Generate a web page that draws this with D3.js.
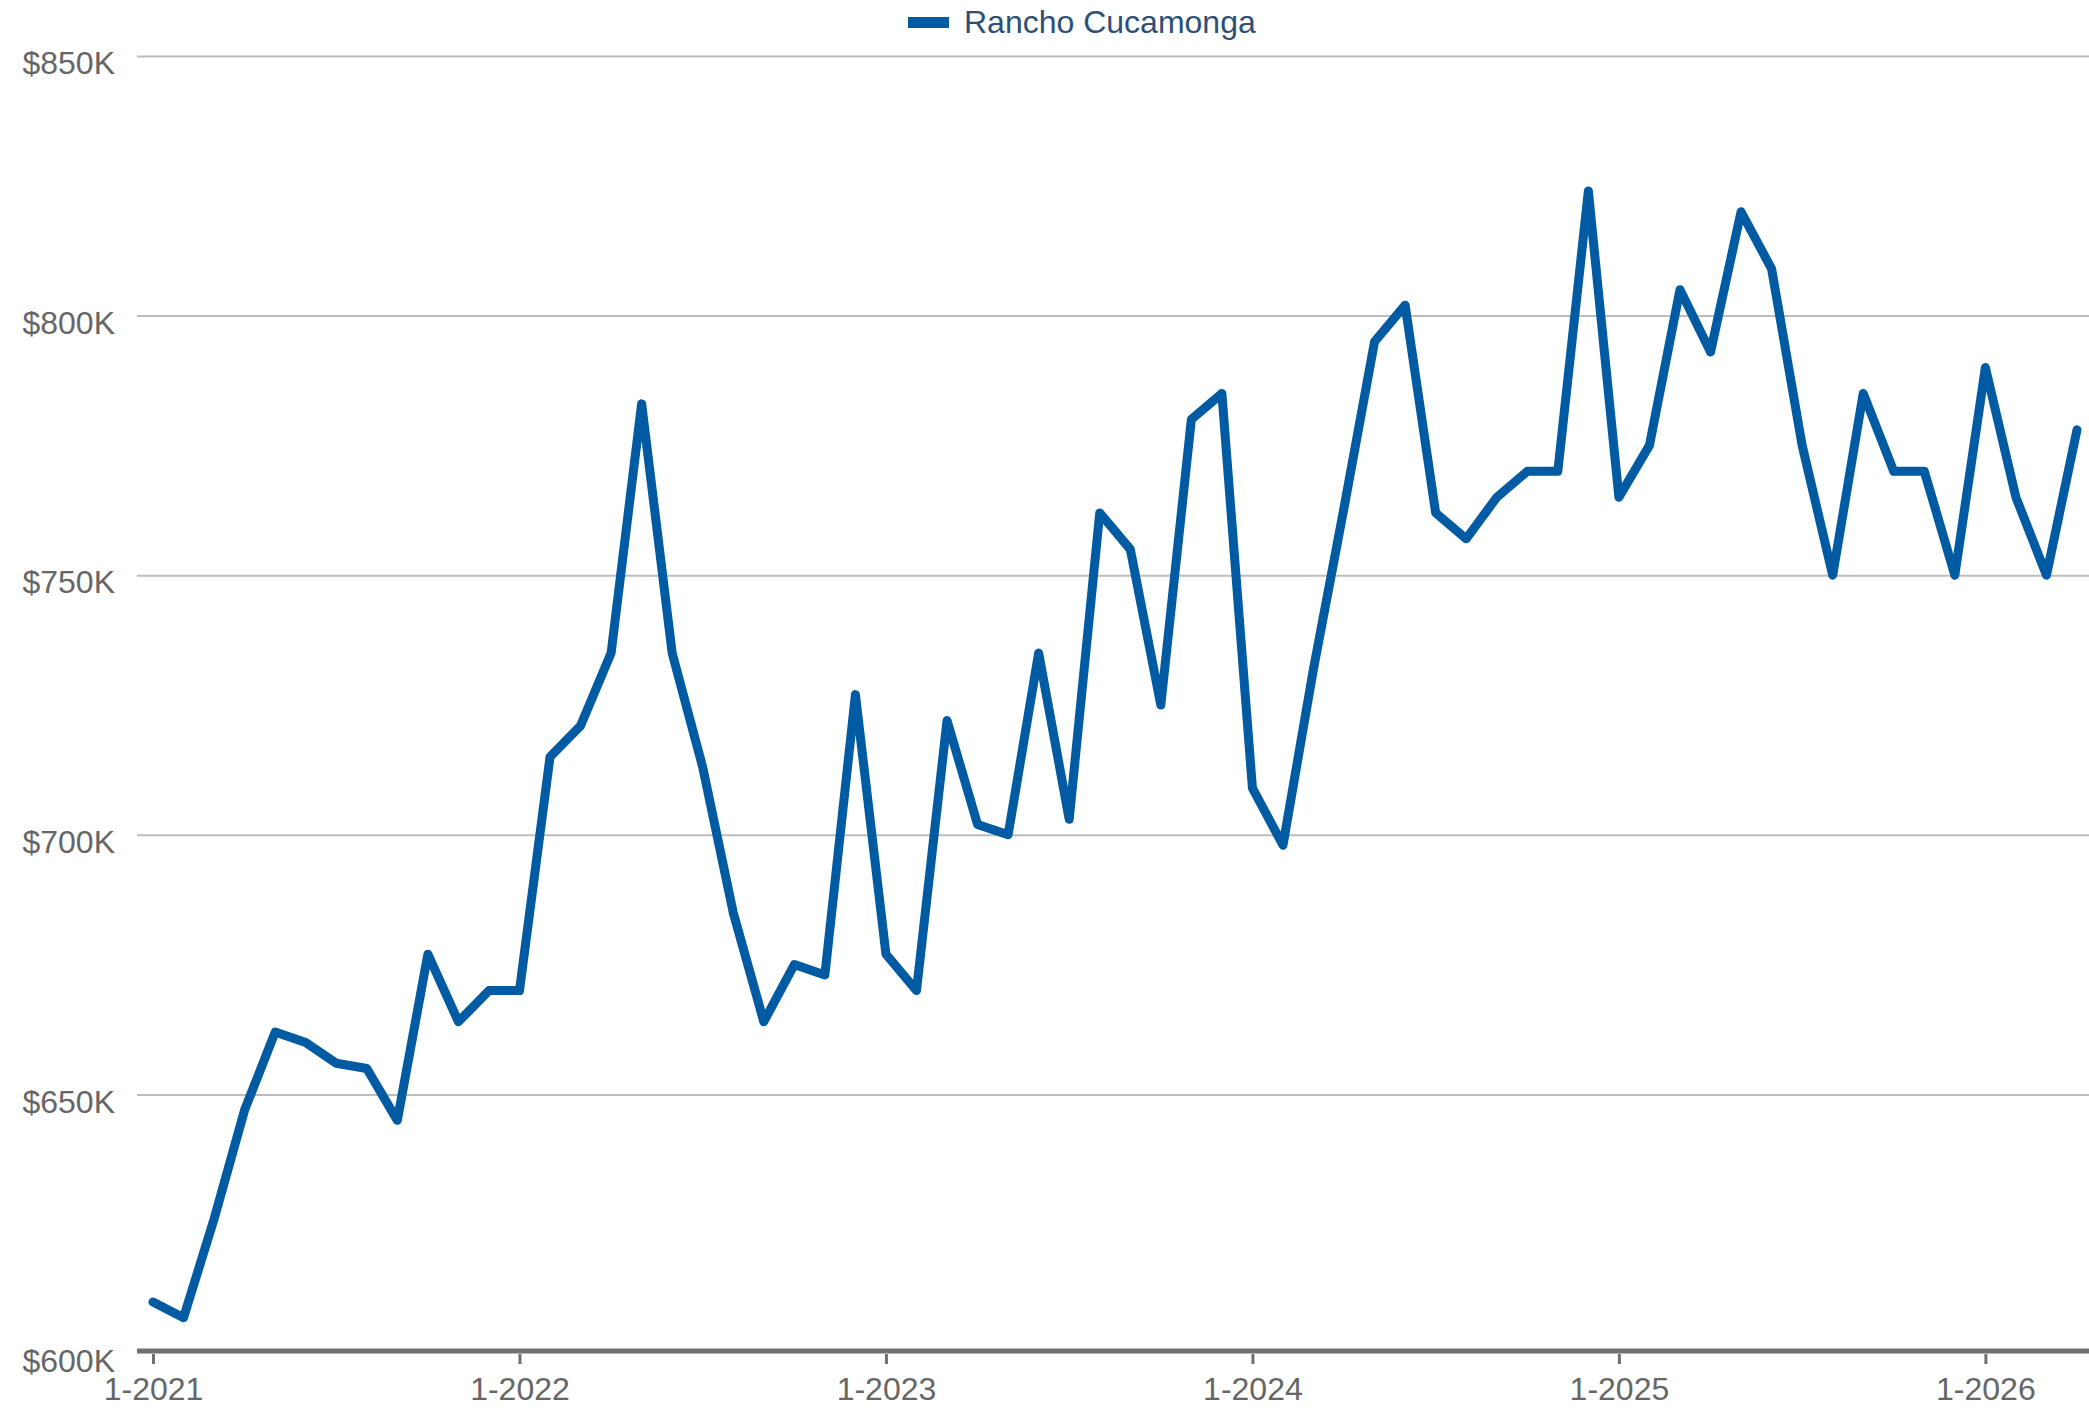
<!DOCTYPE html>
<html>
<head>
<meta charset="utf-8">
<script src="https://cdn.jsdelivr.net/npm/d3@7"></script>
<style>
  body { margin: 0; background: #fff; }
  text { font-family: "Liberation Sans", Arial, sans-serif; }
</style>
</head>
<body>
<div id="chart"></div>
<script>
// monthly median price, Rancho Cucamonga, in $K
var seriesName = 'Rancho Cucamonga';
var startMonth = new Date(2021, 0, 1);
var prices = [
  610, 607, 626, 647, 662, 660, 656, 655, 645, 677, 664, 670,
  670, 715, 721, 735, 783, 735, 713, 685, 664, 675, 673, 727,
  677, 670, 722, 702, 700, 735, 703, 762, 755, 725, 780, 785,
  709, 698, 732, 763, 795, 802, 762, 757, 765, 770, 770, 824,
  765, 775, 805, 793, 820, 809, 775, 750, 785, 770, 770, 750,
  790, 765, 750, 778
];
var yTicks = [600, 650, 700, 750, 800, 850];
var xTickLabels = ['1-2021', '1-2022', '1-2023', '1-2024', '1-2025', '1-2026'];

var months = prices.map(function(d, i){
  var dt = d3.timeMonth.offset(startMonth, i);
  return (dt.getMonth() + 1) + '-' + dt.getFullYear();
});

var W = 2089, H = 1408;
var left = 137, right = 2089;

var svg = d3.select('#chart')
          .append('svg')
          .attr('width', W)
          .attr('height', H);

var x = d3.scalePoint()
    .domain(months)
    .range([153, 2077]);

var y = d3.scaleLinear()
    .domain([600, 850])
    .range([1354, 56]);

// gridlines + y labels
var yAxis = svg.append('g')
    .attr('transform', 'translate(' + left + ',0)')
    .call(d3.axisLeft(y)
      .tickValues(yTicks)
      .tickSize(-(right - left))
      .tickPadding(22)
      .tickFormat(function(d){ return '$' + d + 'K'; }));
yAxis.select('.domain').remove();
yAxis.selectAll('.tick line')
    .style('stroke', '#bdbdbd')
    .style('stroke-width', 2)
    .filter(function(d){ return d === 600; }).remove();
yAxis.selectAll('.tick text')
    .attr('dy', '0.55em')
    .style('font-size', '32px')
    .style('fill', '#666');

// bottom axis
var xAxis = svg.append('g')
    .attr('transform', 'translate(0,' + y(600) + ')')
    .call(d3.axisBottom(x)
      .tickValues(xTickLabels)
      .tickSize(10)
      .tickPadding(13));
xAxis.select('.domain').remove();
xAxis.selectAll('.tick line')
    .style('stroke', '#707070')
    .style('stroke-width', 3);
xAxis.selectAll('.tick text')
    .attr('dy', '0.71em')
    .style('font-size', '32px')
    .style('fill', '#666');

svg.append('line')
    .attr('x1', left)
    .attr('x2', right)
    .attr('y1', y(600) - 3)
    .attr('y2', y(600) - 3)
    .style('stroke', '#707070')
    .style('stroke-width', 5);

// the line
var line = d3.line()
    .x(function(d, i){ return x(months[i]); })
    .y(function(d){ return y(d); });

svg.append('path')
    .datum(prices)
    .attr('d', line)
    .style('fill', 'none')
    .style('stroke', '#005ba3')
    .style('stroke-width', 9)
    .style('stroke-linejoin', 'round')
    .style('stroke-linecap', 'round');

// legend
var legend = svg.append('g').attr('transform', 'translate(908,0)');
legend.append('rect')
    .attr('y', 17)
    .attr('width', 41)
    .attr('height', 11)
    .style('fill', '#005ba3');
legend.append('text')
    .text(seriesName)
    .attr('x', 56)
    .attr('y', 33)
    .style('font-size', '32px')
    .style('fill', '#2d4f75');
</script>
</body>
</html>
